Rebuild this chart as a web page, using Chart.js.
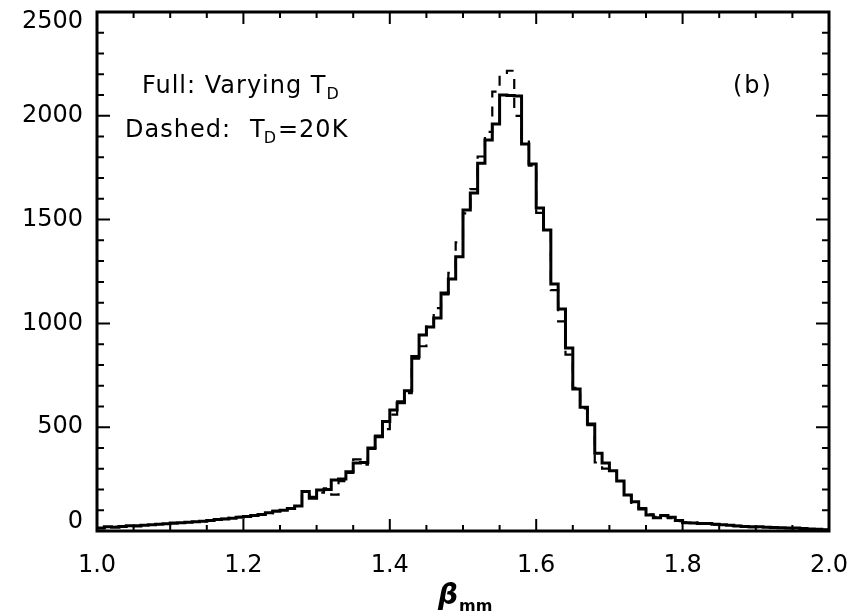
<!DOCTYPE html>
<html>
<head>
<meta charset="utf-8">
<script src="https://cdn.jsdelivr.net/npm/chart.js@4.4.1/dist/chart.umd.min.js"></script>
<style>
  html, body { margin: 0; padding: 0; background: #fff; }
  #wrap { width: 864px; height: 614px; }
</style>
</head>
<body>
<div id="wrap"><canvas id="histChart" width="864" height="614"></canvas></div>
<script>
// histogram bins: 0.01 wide, 1.00 .. 2.00
const binEdges = Array.from({length: 101}, (_, i) => +(1 + i * 0.01).toFixed(2));

// Full line: varying T_D
const fullCounts = [
  15, 20, 18, 22, 25, 24, 28, 30, 32, 35,
  38, 40, 42, 45, 47, 50, 55, 58, 62, 66,
  70, 75, 80, 88, 95, 100, 108, 120, 190, 158,
  197, 200, 246, 250, 286, 327, 330, 400, 454, 527,
  583, 618, 675, 840, 944, 983, 1026, 1146, 1214, 1321,
  1546, 1628, 1772, 1883, 1960, 2100, 2098, 2095, 1864, 1768,
  1556, 1450, 1190, 1069, 881, 684, 596, 515, 375, 327,
  290, 241, 173, 141, 106, 77, 64, 75, 66, 50,
  40, 38, 36, 36, 33, 30, 28, 24, 22, 20,
  20, 18, 17, 16, 15, 14, 12, 10, 8, 6
];

// Dashed line: T_D = 20K
const dashedCounts = [
  14, 18, 20, 21, 23, 26, 27, 29, 33, 34,
  37, 41, 43, 44, 48, 52, 54, 59, 63, 68,
  72, 74, 82, 86, 97, 103, 110, 125, 180, 165,
  185, 205, 175, 240, 280, 345, 320, 395, 460, 491,
  561, 625, 664, 830, 890, 990, 1074, 1140, 1243, 1390,
  1530, 1647, 1804, 1923, 2116, 2196, 2217, 2000, 1888, 1760,
  1532, 1440, 1160, 1010, 850, 690, 590, 510, 330, 300,
  285, 235, 170, 135, 110, 80, 68, 72, 62, 48,
  42, 40, 37, 34, 31, 29, 26, 25, 21, 19,
  19, 18, 16, 15, 14, 13, 11, 9, 7, 5
];

const xTickLabels = ['1.0', '1.2', '1.4', '1.6', '1.8', '2.0'];
const yTickLabels = ['0', '500', '1000', '1500', '2000', '2500'];

// step points: left edge of each bin, plus the closing edge at 2.0
function stepPoints(counts) {
  const pts = counts.map((c, i) => ({x: binEdges[i], y: c}));
  pts.push({x: binEdges[counts.length], y: counts[counts.length - 1]});
  return pts;
}

const FONT = 'DejaVu Sans';

// frame with inward ticks on all four sides, plus the texts
const idlFrame = {
  id: 'idlFrame',
  afterDatasetsDraw(chart) {
    const {ctx, chartArea: a, scales: {x, y}} = chart;
    ctx.save();
    ctx.strokeStyle = '#000';
    ctx.lineWidth = 3;
    ctx.strokeRect(a.left, a.top, a.right - a.left, a.bottom - a.top);

    ctx.lineWidth = 2;
    ctx.beginPath();
    for (let i = 0; i <= 20; i++) {
      const px = x.getPixelForValue(1 + i * 0.05);
      const len = i % 4 === 0 ? 12 : 6;
      ctx.moveTo(px, a.bottom); ctx.lineTo(px, a.bottom - len);
      ctx.moveTo(px, a.top); ctx.lineTo(px, a.top + len);
    }
    for (let v = 0; v <= 2500; v += 100) {
      const py = y.getPixelForValue(v);
      const len = v % 500 === 0 ? 13 : 7;
      ctx.moveTo(a.left, py); ctx.lineTo(a.left + len, py);
      ctx.moveTo(a.right, py); ctx.lineTo(a.right - len, py);
    }
    ctx.stroke();

    ctx.fillStyle = '#000';
    ctx.textBaseline = 'alphabetic';
    ctx.textAlign = 'left';
    ctx.letterSpacing = '1px';

    // legend-like notes
    ctx.font = '24px ' + FONT;
    let s = 'Full: Varying T';
    ctx.fillText(s, 142, 93);
    let w = ctx.measureText(s).width;
    ctx.font = '16px ' + FONT;
    ctx.fillText('D', 142 + w, 99);

    ctx.font = '24px ' + FONT;
    ctx.fillText('Dashed:', 125, 137);
    ctx.fillText('T', 250, 137);
    w = ctx.measureText('T').width;
    ctx.font = '16px ' + FONT;
    ctx.fillText('D', 250 + w - 2, 143);
    const wd = ctx.measureText('D').width;
    ctx.font = '24px ' + FONT;
    ctx.fillText('=20K', 250 + w + wd - 1, 137);

    ctx.letterSpacing = '2px';
    ctx.fillText('(b)', 733, 93);

    // x axis title: beta with subscript mm
    ctx.letterSpacing = '0px';
    ctx.font = 'bold italic 28px ' + FONT;
    ctx.fillText('\u03B2', 438, 604);
    const wb = ctx.measureText('\u03B2').width;
    ctx.font = 'bold 16px ' + FONT;
    ctx.fillText('mm', 438 + wb + 1, 611);
    ctx.restore();
  }
};

new Chart(document.getElementById('histChart'), {
  type: 'line',
  data: {
    datasets: [
      {
        label: 'Dashed: T_D=20K',
        data: stepPoints(dashedCounts),
        stepped: true,
        borderColor: '#000',
        borderWidth: 2.2,
        borderDash: [10, 9],
        pointRadius: 0,
        fill: false
      },
      {
        label: 'Full: Varying T_D',
        data: stepPoints(fullCounts),
        stepped: true,
        borderColor: '#000',
        borderWidth: 3,
        pointRadius: 0,
        fill: false
      }
    ]
  },
  options: {
    responsive: false,
    animation: false,
    layout: { padding: { top: 12, right: 35, left: 0, bottom: 0 } },
    plugins: { legend: { display: false }, tooltip: { enabled: false } },
    scales: {
      x: {
        type: 'linear',
        min: 1, max: 2,
        afterFit: s => { s.height = 83; s.paddingLeft = 0; s.paddingRight = 0; },
        afterBuildTicks: s => { s.ticks = xTickLabels.map(t => ({value: +t})); },
        grid: { display: false, drawTicks: false },
        border: { display: false },
        ticks: {
          padding: 20,
          color: '#000',
          font: { family: FONT, size: 24 },
          callback: v => xTickLabels.find(t => +t === v)
        }
      },
      y: {
        min: 0, max: 2500,
        afterFit: s => { s.width = 97; s.paddingTop = 0; s.paddingBottom = 0; },
        afterBuildTicks: s => { s.ticks = yTickLabels.map(t => ({value: +t})); },
        grid: { display: false, drawTicks: false },
        border: { display: false },
        ticks: {
          padding: 14,
          color: '#000',
          font: { family: FONT, size: 24, lineHeight: 0.8 },
          // end labels kept inside the frame height, as in the original
          callback: (v, i, arr) => {
            const t = yTickLabels.find(l => +l === v);
            if (i === arr.length - 1) return ['', t];
            if (i === 0) return [t, ''];
            return t;
          }
        }
      }
    }
  },
  plugins: [idlFrame]
});
</script>
</body>
</html>
